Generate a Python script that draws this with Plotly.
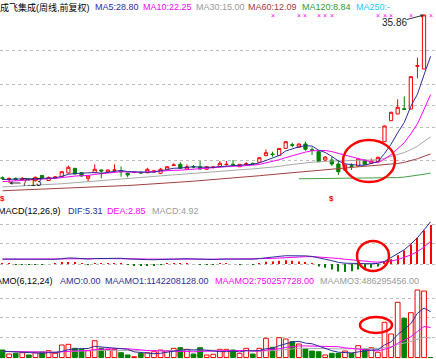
import plotly.graph_objects as go

W, H = 436, 359

# ---------------- data (weekly, 前复权) ----------------
weeks = list(range(66))
open_ = [8.02, 7.73, 7.90, 7.64, 7.81, 7.52, 8.41, 7.55, 7.98, 8.20,
         8.84, 9.64, 8.89, 7.93, 8.89, 9.35, 9.01, 9.30, 9.26, 8.79,
         8.91, 8.96, 8.89, 9.01, 8.79, 9.47, 10.12, 10.32, 9.52, 9.95,
         9.91, 9.47, 9.78, 9.91, 10.27, 10.32, 9.91, 10.29, 10.46, 10.67,
         11.80, 12.09, 11.83, 13.06, 13.68, 13.23, 13.80, 12.82, 12.48, 11.06,
         11.06, 10.38, 9.35, 10.09, 10.03, 11.06, 10.50, 10.77, 14.19, 17.78,
         18.93, 19.83, 19.78, 27.09, 26.62, None]
high = [8.24, 8.07, 8.07, 8.15, 7.98, 8.24, 8.50, 8.24, 8.32, 9.18,
        10.09, 9.69, 9.01, 8.41, 10.32, 9.44, 9.44, 10.32, 9.95, 8.92,
        9.01, 9.09, 9.74, 9.35, 9.69, 10.03, 10.50, 10.67, 10.32, 10.21,
        10.89, 10.03, 10.03, 10.89, 10.89, 11.06, 10.38, 10.72, 10.63, 11.57,
        12.89, 12.48, 13.11, 14.31, 14.02, 13.88, 14.19, 13.23, 12.60, 11.66,
        11.63, 11.06, 10.29, 10.50, 11.32, 11.15, 11.35, 11.63, 16.96, 19.30,
        21.44, 21.95, 25.38, 28.56, 35.86, None]
low = [7.64, 7.13, 7.47, 7.47, 7.47, 7.38, 7.90, 7.47, 7.81, 8.10,
       8.75, 8.58, 8.24, 7.35, 8.84, 7.93, 8.92, 9.18, 8.20, 8.10,
       8.84, 8.75, 8.79, 8.92, 8.67, 9.35, 10.03, 9.57, 9.44, 9.64,
       9.44, 9.35, 9.61, 9.86, 10.12, 9.91, 9.86, 10.12, 10.21, 10.60,
       11.74, 11.63, 11.74, 12.99, 13.23, 13.16, 12.65, 11.92, 10.72, 10.89,
       10.03, 8.50, 9.26, 9.35, 9.95, 10.26, 10.43, 10.72, 14.14, 17.73,
       18.88, 19.70, 19.73, 25.03, 26.57, None]
close = [7.93, 7.90, 7.73, 7.85, 7.71, 8.10, 7.98, 8.07, 8.15, 9.06,
         9.81, 8.67, 8.32, 8.32, 9.47, 9.18, 9.35, 9.35, 9.01, 8.50,
         8.97, 8.84, 9.47, 9.18, 9.47, 9.91, 10.21, 9.64, 9.91, 9.86,
         9.52, 9.91, 9.86, 10.50, 10.32, 10.24, 10.32, 10.41, 10.38, 11.45,
         12.31, 12.00, 13.03, 14.19, 13.59, 13.80, 12.89, 12.72, 10.77, 11.57,
         10.38, 9.06, 10.21, 9.98, 11.23, 10.32, 10.89, 11.52, 16.88, 19.22,
         20.07, 19.73, 25.31, 27.19, 35.86, None]

ma5 = [7.72, 7.78, 7.80, 7.83, 7.82, 7.86, 7.87, 7.94, 8.00, 8.27,
       8.61, 8.75, 8.80, 8.84, 8.92, 8.79, 8.93, 9.13, 9.27, 9.08,
       9.04, 8.93, 8.96, 8.99, 9.19, 9.37, 9.65, 9.68, 9.83, 9.91,
       9.83, 9.77, 9.81, 9.93, 10.02, 10.17, 10.25, 10.36, 10.33, 10.56,
       10.97, 11.31, 11.83, 12.60, 13.02, 13.32, 13.50, 13.44, 12.75, 12.35,
       11.67, 10.90, 10.40, 10.24, 10.17, 10.16, 10.53, 10.79, 12.17, 13.77,
       15.72, 17.48, 20.24, 22.30, 25.63, 28.80]
ma10 = [7.36, 7.45, 7.53, 7.62, 7.70, 7.79, 7.83, 7.87, 7.92, 8.05,
        8.24, 8.31, 8.37, 8.42, 8.60, 8.70, 8.84, 8.97, 9.06, 9.00,
        8.92, 8.93, 9.05, 9.13, 9.14, 9.21, 9.29, 9.32, 9.41, 9.55,
        9.60, 9.71, 9.75, 9.88, 9.97, 10.00, 10.01, 10.09, 10.13, 10.29,
        10.57, 10.78, 11.10, 11.47, 11.79, 12.15, 12.41, 12.64, 12.68, 12.69,
        12.50, 12.20, 11.92, 11.50, 11.26, 10.92, 10.72, 10.60, 11.21, 11.97,
        12.94, 14.01, 15.52, 17.24, 19.70, 22.25]
ma30 = [6.45, 6.50, 6.55, 6.60, 6.66, 6.72, 6.78, 6.85, 6.92, 7.00,
        7.09, 7.17, 7.26, 7.35, 7.44, 7.53, 7.62, 7.71, 7.80, 7.89,
        7.98, 8.07, 8.16, 8.25, 8.34, 8.43, 8.52, 8.62, 8.74, 8.86,
        8.92, 8.98, 9.06, 9.14, 9.23, 9.30, 9.38, 9.46, 9.53, 9.61,
        9.70, 9.81, 9.96, 10.16, 10.30, 10.45, 10.57, 10.68, 10.74, 10.84,
        10.89, 10.90, 10.92, 10.95, 11.01, 11.02, 11.04, 11.10, 11.34, 11.65,
        12.00, 12.33, 12.84, 13.40, 14.25, 15.00]
ma60 = [5.80, 5.84, 5.89, 5.93, 5.98, 6.02, 6.06, 6.10, 6.14, 6.19,
        6.23, 6.28, 6.32, 6.37, 6.42, 6.48, 6.53, 6.59, 6.65, 6.70,
        6.76, 6.82, 6.88, 6.96, 7.04, 7.12, 7.20, 7.28, 7.36, 7.44,
        7.52, 7.61, 7.70, 7.79, 7.88, 7.97, 8.06, 8.15, 8.26, 8.37,
        8.48, 8.59, 8.68, 8.76, 8.84, 8.92, 9.03, 9.15, 9.26, 9.38,
        9.49, 9.60, 9.70, 9.80, 9.89, 9.98, 10.07, 10.17, 10.27, 10.36,
        10.46, 10.66, 10.95, 11.27, 11.70, 12.09]
ma120 = [None] * 45 + [7.85, 7.86, 7.86, 7.87, 7.87, 7.88, 7.88, 7.89, 7.89, 7.90,
                       7.90, 7.91, 7.92, 7.95, 7.99, 8.05, 8.14, 8.26, 8.42, 8.62, 8.84]

dif = [0.62, 0.61, 0.59, 0.58, 0.56, 0.57, 0.57, 0.58, 0.59, 0.66,
       0.76, 0.74, 0.68, 0.62, 0.68, 0.70, 0.72, 0.74, 0.72, 0.64,
       0.59, 0.54, 0.55, 0.54, 0.56, 0.62, 0.68, 0.66, 0.66, 0.64,
       0.58, 0.58, 0.57, 0.62, 0.63, 0.62, 0.61, 0.61, 0.60, 0.68,
       0.80, 0.86, 0.96, 1.04, 1.06, 1.06, 1.02, 0.95, 0.74, 0.60,
       0.42, 0.20, 0.10, 0.06, 0.08, 0.05, 0.04, 0.07, 0.32, 0.80,
       1.30, 1.80, 2.50, 3.30, 4.30, 5.31]
dea = [0.60, 0.60, 0.60, 0.59, 0.59, 0.58, 0.58, 0.58, 0.58, 0.59,
       0.63, 0.65, 0.66, 0.65, 0.66, 0.67, 0.68, 0.69, 0.70, 0.69,
       0.67, 0.64, 0.62, 0.61, 0.60, 0.60, 0.62, 0.62, 0.63, 0.64,
       0.63, 0.62, 0.61, 0.61, 0.62, 0.62, 0.62, 0.61, 0.61, 0.62,
       0.66, 0.70, 0.75, 0.81, 0.86, 0.90, 0.92, 0.93, 0.89, 0.83,
       0.78, 0.70, 0.60, 0.50, 0.42, 0.34, 0.28, 0.23, 0.25, 0.36,
       0.55, 0.80, 1.14, 1.57, 2.12, 2.85]
macd = [0.04, 0.02, -0.02, -0.02, -0.06, -0.02, -0.02, 0.00, 0.02, 0.14,
        0.26, 0.18, 0.04, -0.06, 0.04, 0.06, 0.08, 0.10, 0.04, -0.10,
        -0.16, -0.20, -0.14, -0.14, -0.08, 0.04, 0.12, 0.08, 0.06, 0.00,
        -0.10, -0.08, -0.08, 0.02, 0.02, 0.00, -0.02, 0.00, -0.02, 0.12,
        0.28, 0.32, 0.42, 0.46, 0.40, 0.32, 0.20, 0.04, -0.30, -0.46,
        -0.70, -0.95, -1.00, -0.90, -0.70, -0.58, -0.46, -0.32, 0.14, 0.60,
        1.10, 1.70, 2.45, 3.30, 4.20, 4.92]

# 成交额 AMO, unit: 亿元
amo = [1.87, 0.87, 1.04, 1.20, 0.62, 1.20, 1.45, 1.70, 1.04, 3.12,
       3.29, 2.29, 2.04, 1.70, 4.19, 2.29, 2.04, 2.04, 1.20, 0.62,
       0.20, 1.04, 1.20, 1.45, 1.87, 1.70, 2.29, 2.45, 2.04, 0.87,
       2.45, 0.62, 0.80, 2.04, 2.04, 1.87, 1.04, 2.29, 0.87, 2.29,
       4.79, 2.54, 4.94, 4.61, 3.94, 3.37, 2.12, 1.62, 1.45, 0.62,
       1.04, 1.04, 1.62, 1.04, 2.95, 2.12, 2.45, 1.30, 8.78, 5.86,
       13.77, 9.78, 11.17, 16.83, 16.58, 0.0]
maamo1 = [1.56, 1.46, 1.38, 1.33, 1.18, 1.13, 1.06, 1.20, 1.20, 1.52,
          1.97, 2.15, 2.25, 2.25, 2.77, 2.63, 2.43, 2.38, 2.24, 2.06,
          1.40, 1.19, 1.05, 0.95, 1.06, 1.24, 1.59, 1.83, 1.97, 1.87,
          1.97, 1.79, 1.54, 1.47, 1.47, 1.64, 1.40, 1.68, 1.69, 1.73,
          2.19, 2.30, 2.95, 3.34, 3.85, 4.03, 3.59, 3.43, 2.85, 2.19,
          1.70, 1.32, 1.23, 1.14, 1.39, 1.64, 1.87, 1.91, 3.11, 3.91,
          5.71, 6.99, 8.44, 11.03, 12.33, 11.42]
maamo2 = [1.53, 1.48, 1.44, 1.42, 1.34, 1.32, 1.31, 1.33, 1.29, 1.43,
          1.58, 1.64, 1.66, 1.73, 1.99, 2.08, 2.20, 2.27, 2.25, 2.16,
          2.09, 1.91, 1.74, 1.67, 1.65, 1.65, 1.50, 1.51, 1.51, 1.41,
          1.52, 1.52, 1.57, 1.65, 1.72, 1.76, 1.69, 1.74, 1.62, 1.60,
          1.83, 1.97, 2.18, 2.51, 2.77, 2.88, 2.89, 2.87, 2.90, 2.77,
          2.78, 2.68, 2.41, 2.29, 2.12, 1.92, 1.79, 1.62, 2.17, 2.53,
          3.55, 4.32, 5.16, 6.47, 7.72, 7.50]
maamo3 = [1.52, 1.49, 1.47, 1.46, 1.42, 1.41, 1.41, 1.42, 1.40, 1.47,
          1.54, 1.57, 1.60, 1.61, 1.72, 1.75, 1.77, 1.80, 1.78, 1.75,
          1.69, 1.67, 1.66, 1.66, 1.66, 1.69, 1.75, 1.80, 1.86, 1.84,
          1.89, 1.84, 1.83, 1.78, 1.73, 1.72, 1.67, 1.70, 1.56, 1.56,
          1.67, 1.69, 1.85, 2.02, 2.17, 2.27, 2.31, 2.32, 2.30, 2.26,
          2.20, 2.14, 2.12, 2.13, 2.15, 2.22, 2.28, 2.25, 2.53, 2.70,
          3.23, 3.55, 3.97, 4.58, 5.07, 4.86]

signal_x_weeks = [41, 45, 46, 48, 49, 50, 57, 58, 59, 62, 65]
signal_s_weeks = [0, 50]
high_week, high_label = 64, "35.86"
low_week, low_label = 1, "7.13"

title_main = [("成飞集成(周线,前复权)", "#000000"), ("MA5:28.80", "#2d2d9b"), ("MA10:22.25", "#ff00ff"),
              ("MA30:15.00", "#9a9a9a"), ("MA60:12.09", "#a03a3a"), ("MA120:8.84", "#2e9a2e"),
              ("MA250:-", "#1ec8ff")]
title_macd = [("MACD(12,26,9)", "#000000"), ("DIF:5.31", "#2d2d9b"), ("DEA:2.85", "#ff00ff"),
              ("MACD:4.92", "#9a9a9a")]
title_amo = [("AMO(6,12,24)", "#000000"), ("AMO:0.00", "#2d2d9b"), ("MAAMO1:1142208128.00", "#2d2d9b"),
             ("MAAMO2:750257728.00", "#ff00ff"), ("MAAMO3:486295456.00", "#9a9a9a")]

# ---------------- styling ----------------
RED, GREEN = "#ff0000", "#008000"
NAVY, MAG, GRAY, BROWN, MGREEN = "#2d2d9b", "#ff00ff", "#a8a8a8", "#a04040", "#44a044"
FONT = "Liberation Sans, Arial, Noto Sans CJK SC, sans-serif"

def py(p):  # pixel row -> paper y
    return 1 - p / H

def px(p):
    return p / W

fig = go.Figure()

# main panel
fig.add_trace(go.Candlestick(
    x=weeks, open=open_, high=high, low=low, close=close,
    increasing=dict(line=dict(color=RED, width=1), fillcolor="#ffffff"),
    decreasing=dict(line=dict(color=GREEN, width=1), fillcolor=GREEN),
    xaxis="x", yaxis="y", hoverinfo="skip"))
for vals, col in [(ma60, BROWN), (ma30, GRAY), (ma120, MGREEN), (ma10, MAG), (ma5, NAVY)]:
    fig.add_trace(go.Scatter(x=weeks, y=vals, mode="lines", line=dict(color=col, width=1),
                             xaxis="x", yaxis="y", hoverinfo="skip"))

# MACD panel
fig.add_trace(go.Bar(x=weeks, y=macd, width=0.16,
                     marker=dict(color=[RED if v >= 0 else GREEN for v in macd], line=dict(width=0)),
                     xaxis="x2", yaxis="y2", hoverinfo="skip"))
fig.add_trace(go.Scatter(x=weeks, y=dea, mode="lines", line=dict(color=MAG, width=1),
                         xaxis="x2", yaxis="y2", hoverinfo="skip"))
fig.add_trace(go.Scatter(x=weeks, y=dif, mode="lines", line=dict(color=NAVY, width=1),
                         xaxis="x2", yaxis="y2", hoverinfo="skip"))

# AMO panel
up = [(c is not None and o is not None and c >= o) for o, c in zip(open_, close)]
fig.add_trace(go.Bar(x=weeks, y=amo, width=0.72,
                     marker=dict(color=["#ffffff" if u else GREEN for u in up],
                                 line=dict(color=[RED if u else GREEN for u in up], width=1)),
                     xaxis="x3", yaxis="y3", hoverinfo="skip"))
for vals, col in [(maamo3, GRAY), (maamo2, MAG), (maamo1, NAVY)]:
    fig.add_trace(go.Scatter(x=weeks, y=vals, mode="lines", line=dict(color=col, width=1),
                             xaxis="x3", yaxis="y3", hoverinfo="skip"))

xr = [-0.38, 65.82]
xcommon = dict(range=xr, showgrid=False, zeroline=False, showticklabels=False, ticks="",
               showline=False, fixedrange=True)
grid = dict(showticklabels=False, ticks="", showgrid=True, gridcolor="#bdbdbd", griddash="dot",
            gridwidth=1, zeroline=False, showline=False, fixedrange=True)

fig.update_layout(
    width=W, height=H, margin=dict(l=0, r=0, t=0, b=0),
    paper_bgcolor="#ffffff", plot_bgcolor="#ffffff", showlegend=False,
    font=dict(family=FONT, size=9),
    xaxis=dict(domain=[0, 1], anchor="y", rangeslider=dict(visible=False), **xcommon),
    xaxis2=dict(domain=[0, 1], anchor="y2", matches="x", **xcommon),
    xaxis3=dict(domain=[0, 1], anchor="y3", matches="x", **xcommon),
    yaxis=dict(domain=[py(200), py(12)], range=[4.219, 36.37],
               tickvals=[10.89, 16.65, 20.30, 24.01, 29.75], **grid),
    yaxis2=dict(domain=[py(275), py(215)], range=[-1.384, 6.164],
                tickvals=[0, 2.52, 5.03], **grid),
    yaxis3=dict(domain=[0, py(286)], range=[-0.374, 17.832],
                tickvals=[4.94, 9.93, 14.76], **grid),
)

ann = []

def header(items, xs, yrow):
    for (txt, col), x0 in zip(items, xs):
        ann.append(dict(xref="paper", yref="paper", x=px(x0), y=py(yrow), xanchor="left",
                        yanchor="middle", text=txt, showarrow=False, borderpad=0,
                        font=dict(family=FONT, size=9, color=col)))

header(title_main, [-1, 94, 142, 195, 247, 301, 355], 7)
header(title_macd, [-3, 67, 106, 151], 210.8)
header(title_amo, [-5, 59, 104, 214, 319], 281)

for wk in signal_x_weeks:
    ann.append(dict(xref="x", yref="paper", x=wk, y=py(16), text="×", showarrow=False, borderpad=0,
                    font=dict(family=FONT, size=7, color=MAG), xanchor="center", yanchor="middle"))
for wk in signal_s_weeks:
    ann.append(dict(xref="x", yref="paper", x=wk, y=py(198.5), text="<b>$</b>", showarrow=False,
                    font=dict(family=FONT, size=8, color=RED), xanchor="center", yanchor="middle"))

ann.append(dict(xref="x", yref="y", x=high_week, y=float(high_label), text=high_label,
                showarrow=True, ax=-30, ay=8, arrowhead=2, arrowsize=0.7, arrowwidth=1, borderpad=0,
                arrowcolor="#333333", font=dict(family=FONT, size=10, color="#222222")))
ann.append(dict(xref="x", yref="y", x=low_week, y=float(low_label), text=low_label,
                showarrow=True, ax=23, ay=0, arrowhead=2, arrowsize=0.7, arrowwidth=1,
                arrowcolor="#333333", font=dict(family=FONT, size=10, color="#222222")))
fig.update_layout(annotations=ann)

# hand-drawn red highlight circles
shapes = []
for cx, cy, rx, ry in [(369, 161, 26, 21), (373, 256, 16, 15), (376, 325, 16, 8)]:
    shapes.append(dict(type="circle", xref="paper", yref="paper",
                       x0=px(cx - rx), x1=px(cx + rx), y0=py(cy + ry), y1=py(cy - ry),
                       line=dict(color=RED, width=2.5)))
fig.update_layout(shapes=shapes)

fig.write_html("out.html", config={"displayModeBar": False},
               post_script="document.body.style.margin='0';document.body.style.padding='0';")
